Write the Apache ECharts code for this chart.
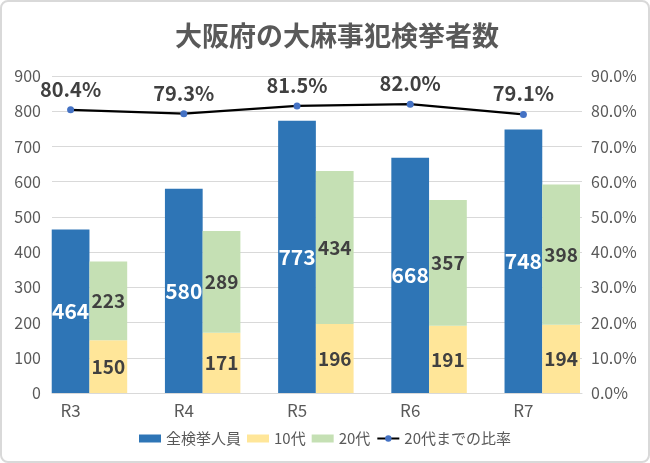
<!DOCTYPE html>
<html>
<head>
<meta charset="utf-8">
<script src="https://cdn.jsdelivr.net/npm/echarts@6/dist/echarts.min.js"></script>
<style>
html,body{margin:0;padding:0;background:#fff;}
#wrap{position:relative;width:650px;height:463px;}
#chart{position:absolute;left:0;top:0;width:650px;height:463px;}
#border{position:absolute;left:0;top:0;width:646px;height:459px;border:2px solid #d9d9d9;border-radius:8px;pointer-events:none;}
</style>
</head>
<body>
<div id="wrap"><div id="chart"></div><div id="border"></div></div>
<script>
const categories = ['R3', 'R4', 'R5', 'R6', 'R7'];
const total = [464, 580, 773, 668, 748];
const teens = [150, 171, 196, 191, 194];
const twenties = [223, 289, 434, 357, 398];
const ratio = [80.4, 79.3, 81.5, 82.0, 79.1];
const leftTicks = [0, 900, 100];
const rightTicks = [0, 90, 10];

const font = '"Noto Sans CJK JP", "Noto Sans", sans-serif';
const chart = echarts.init(document.getElementById('chart'));
const gTop = 76, gBottom = 70;
chart.setOption({
  animation: false,
  backgroundColor: '#fff',
  textStyle: { fontFamily: font },
  title: {
    text: '大阪府の大麻事犯検挙者数',
    left: 170,
    top: 17,
    textStyle: { fontSize: 27, fontWeight: 'bold', color: '#595959', fontFamily: font }
  },
  legend: {
    data: [
      { name: '全検挙人員', icon: 'rect' },
      { name: '10代', icon: 'rect' },
      { name: '20代', icon: 'rect' },
      { name: '20代までの比率' }
    ],
    bottom: 12,
    left: 'center',
    itemWidth: 22,
    itemHeight: 8,
    itemGap: 6,
    textStyle: { fontSize: 15, color: '#595959', fontFamily: font }
  },
  grid: [
    { left: 14, right: 70, top: gTop, bottom: gBottom },
    { left: 52, right: 68, top: gTop, bottom: gBottom }
  ],
  xAxis: [
    {
      type: 'category', gridIndex: 0, data: categories,
      axisLine: { show: false }, axisTick: { show: false },
      axisLabel: { fontSize: 17, color: '#595959', margin: 9, fontFamily: font }
    },
    {
      type: 'category', gridIndex: 1, data: categories,
      axisLine: { show: true, lineStyle: { color: '#d9d9d9', width: 1 } },
      axisTick: { show: false }, axisLabel: { show: false }
    }
  ],
  yAxis: [
    { type: 'value', gridIndex: 0, min: leftTicks[0], max: leftTicks[1], interval: leftTicks[2], show: false },
    { type: 'value', gridIndex: 0, min: rightTicks[0], max: rightTicks[1], interval: rightTicks[2], show: false },
    {
      type: 'value', gridIndex: 1, min: leftTicks[0], max: leftTicks[1], interval: leftTicks[2],
      position: 'left',
      axisLine: { show: false }, axisTick: { show: false },
      axisLabel: { fontSize: 16, color: '#595959', margin: 11, fontFamily: font },
      splitLine: { show: true, lineStyle: { color: '#d9d9d9', width: 1 } }
    },
    {
      type: 'value', gridIndex: 1, min: rightTicks[0], max: rightTicks[1], interval: rightTicks[2],
      position: 'right',
      axisLine: { show: false }, axisTick: { show: false },
      axisLabel: { fontSize: 16, color: '#595959', margin: 9, fontFamily: font,
        formatter: v => v.toFixed(1) + '%' },
      splitLine: { show: false }
    }
  ],
  series: [
    {
      name: 'spacer', type: 'bar', xAxisIndex: 0, yAxisIndex: 0, stack: 's0',
      data: categories.map(() => '-'), barGap: '0%', barCategoryGap: '0%', silent: true
    },
    {
      name: '全検挙人員', type: 'bar', xAxisIndex: 0, yAxisIndex: 0, stack: 's1',
      data: total, barGap: '0%', barCategoryGap: '0%',
      itemStyle: { color: '#2E75B6' },
      label: { show: true, position: 'inside', color: '#fff', fontSize: 21, fontWeight: 'bold', fontFamily: font }
    },
    {
      name: '10代', type: 'bar', xAxisIndex: 0, yAxisIndex: 0, stack: 's2',
      data: teens, barGap: '0%', barCategoryGap: '0%',
      itemStyle: { color: '#FFE699' },
      label: { show: true, position: 'inside', color: '#404040', fontSize: 19, fontWeight: 'bold', fontFamily: font }
    },
    {
      name: '20代', type: 'bar', xAxisIndex: 0, yAxisIndex: 0, stack: 's2',
      data: twenties, barGap: '0%', barCategoryGap: '0%',
      itemStyle: { color: '#C5E0B4' },
      label: { show: true, position: 'inside', color: '#404040', fontSize: 19, fontWeight: 'bold', fontFamily: font }
    },
    {
      name: '20代までの比率', type: 'line', xAxisIndex: 0, yAxisIndex: 1,
      data: ratio,
      symbol: 'circle', symbolSize: 7,
      lineStyle: { color: '#000', width: 2.2 },
      itemStyle: { color: '#4472C4' },
      label: { show: true, position: 'top', distance: 7, color: '#404040', fontSize: 20, fontWeight: 'bold',
        fontFamily: font, formatter: p => p.value.toFixed(1) + '%' },
      z: 5
    }
  ]
});
</script>
</body>
</html>
